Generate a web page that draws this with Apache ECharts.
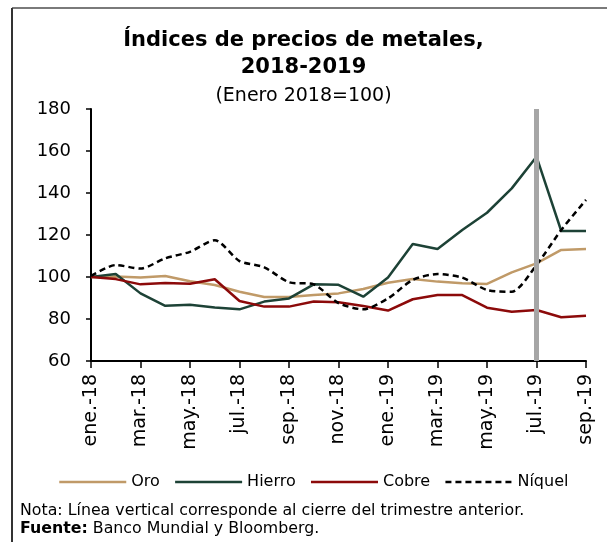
<!DOCTYPE html>
<html>
<head>
<meta charset="utf-8">
<script src="https://cdn.jsdelivr.net/npm/echarts@6/dist/echarts.min.js"></script>
<style>
    html, body { margin: 0; padding: 0; background: #fff; }
    #echarts { width: 607px; height: 542px; }
</style>
</head>
<body>
<div id="echarts"></div>
<script>
const months = ['ene.-18', 'feb.-18', 'mar.-18', 'abr.-18', 'may.-18', 'jun.-18', 'jul.-18',
    'ago.-18', 'sep.-18', 'oct.-18', 'nov.-18', 'dic.-18', 'ene.-19', 'feb.-19', 'mar.-19',
    'abr.-19', 'may.-19', 'jun.-19', 'jul.-19', 'ago.-19', 'sep.-19'];

const oro = [100, 100.2, 99.8, 100.5, 98, 96.2, 93, 90.5, 90.5, 91.4, 92.2, 94.3,
    97.3, 99, 97.8, 97, 96.7, 102.2, 106.5, 112.9, 113.3];
const hierro = [100, 101.4, 92.2, 86.3, 86.8, 85.5, 84.6, 88.3, 89.8, 96.5, 96.3, 90.6,
    99.8, 115.7, 113.3, 122.4, 130.6, 142.2, 157.3, 121.9, 121.9];
const cobre = [100, 99, 96.5, 97.1, 96.8, 98.9, 88.6, 85.9, 85.9, 88.3, 88, 86.2,
    84, 89.4, 91.4, 91.4, 85.4, 83.5, 84.3, 80.8, 81.6];
const niquel = [100.5, 105.7, 104, 108.9, 112, 117.5, 107.6, 104.6, 97.5, 96.5, 87.6, 84.6,
    89.8, 98.6, 101.4, 99.7, 93.8, 93, 105.7, 122.4, 136.7];

const yTicks = [60, 80, 100, 120, 140, 160, 180];
const quarterMark = 'jul.-19';

const FONT = '"DejaVu Sans", sans-serif';
const chart = echarts.init(document.getElementById('echarts'));

function lineSeries(name, data, color, type, smooth) {
    return {
        name: name,
        type: 'line',
        data: data,
        symbol: 'none',
        smooth: smooth || false,
        lineStyle: { color: color, width: 2.5, type: type || 'solid' },
        itemStyle: { color: color }
    };
}

const series = [
    lineSeries('Oro', oro, '#c09a68'),
    lineSeries('Hierro', hierro, '#1d4236'),
    lineSeries('Cobre', cobre, '#8c0a0a'),
    lineSeries('Níquel', niquel, '#000000', [6, 4], 0.25)
];
series[0].markLine = {
    silent: true,
    symbol: 'none',
    label: { show: false },
    lineStyle: { color: '#a6a6a6', width: 5, type: 'solid' },
    data: [{ xAxis: quarterMark }]
};

chart.setOption({
    animation: false,
    title: [
        {
            text: 'Índices de precios de metales,\n2018-2019',
            left: 'center',
            top: 22,
            textStyle: { fontFamily: FONT, fontSize: 21, fontWeight: 'bold', color: '#000', lineHeight: 27 }
        },
        {
            text: '(Enero 2018=100)',
            left: 'center',
            top: 82,
            textStyle: { fontFamily: FONT, fontSize: 19, fontWeight: 'normal', color: '#000' }
        }
    ],
    legend: {
        top: 469,
        left: 53,
        itemWidth: 67,
        itemHeight: 10,
        itemGap: 14,
        itemStyle: { opacity: 0 },
        lineStyle: { width: 2.5 },
        textStyle: { fontFamily: FONT, fontSize: 16, color: '#000' },
        data: ['Oro', 'Hierro', 'Cobre', 'Níquel']
    },
    grid: { left: 91, right: 21, top: 109, bottom: 181 },
    xAxis: {
        type: 'category',
        data: months,
        boundaryGap: false,
        axisLine: { lineStyle: { color: '#000', width: 2 } },
        axisTick: { interval: 1, length: 7, lineStyle: { color: '#000', width: 1.5 } },
        axisLabel: { interval: 1, rotate: 90, fontFamily: FONT, fontSize: 19, color: '#000', margin: 13 }
    },
    yAxis: {
        type: 'value',
        min: yTicks[0],
        max: yTicks[yTicks.length - 1],
        interval: 20,
        splitLine: { show: false },
        axisLine: { show: true, lineStyle: { color: '#000', width: 2 } },
        axisTick: { show: true, length: 5, lineStyle: { color: '#000', width: 1.5 } },
        axisLabel: { fontFamily: FONT, fontSize: 18, color: '#000', margin: 20 }
    },
    graphic: [
        { type: 'line', shape: { x1: 12, y1: 8, x2: 607, y2: 8 }, style: { stroke: '#7a7a7a', lineWidth: 2 } },
        { type: 'line', shape: { x1: 12, y1: 8, x2: 12, y2: 542 }, style: { stroke: '#333', lineWidth: 2 } },
        {
            type: 'text', left: 20, top: 503,
            style: { text: 'Nota: Línea vertical corresponde al cierre del trimestre anterior.', font: '15.8px ' + FONT, fill: '#000' }
        },
        {
            type: 'text', left: 20, top: 521,
            style: {
                text: '{b|Fuente:} Banco Mundial y Bloomberg.',
                font: '15.8px ' + FONT, fill: '#000',
                rich: { b: { fontWeight: 'bold', fontFamily: FONT, fontSize: 15.8 } }
            }
        }
    ],
    series: series
});
</script>
</body>
</html>
